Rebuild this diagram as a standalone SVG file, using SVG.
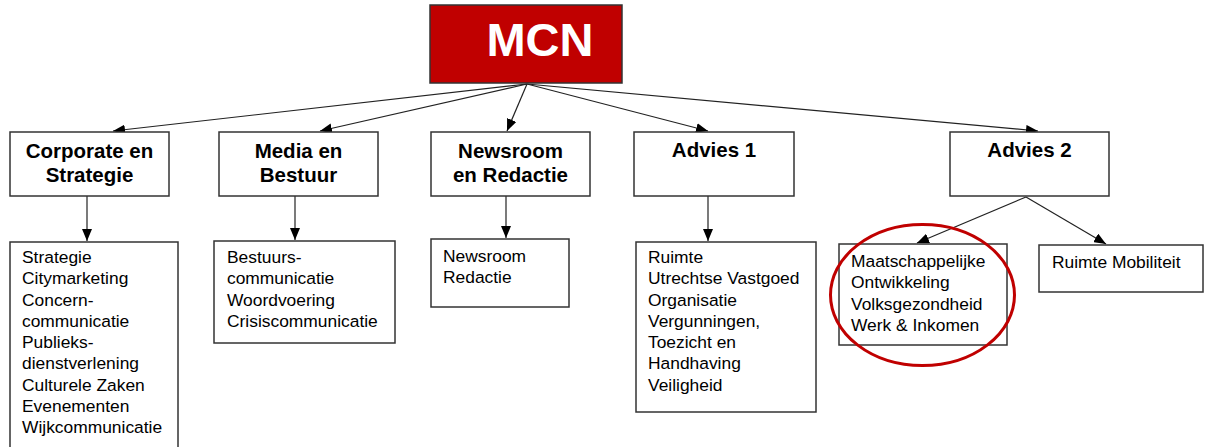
<svg xmlns="http://www.w3.org/2000/svg" width="1206" height="447" viewBox="0 0 1206 447">
<style>
.box{fill:#fff;stroke:#333;stroke-width:1.5}
.head{font-family:"Liberation Sans",Arial,sans-serif;font-weight:bold;font-size:20.5px;fill:#000;text-anchor:middle}
.body{font-family:"Liberation Sans",Arial,sans-serif;font-size:17.4px;fill:#000}
.conn{stroke:#222;stroke-width:1.2;fill:none;marker-end:url(#arr)}
</style>
<defs>
<marker id="arr" markerUnits="userSpaceOnUse" markerWidth="12" markerHeight="10" viewBox="0 0 12 10" refX="12" refY="5" orient="auto">
<path d="M0,0 L12,5 L0,10 Z" fill="#000"/>
</marker>
</defs>
<rect width="1206" height="447" fill="#fff"/>
<g id="connectors">
<line class="conn" x1="527" y1="84" x2="113" y2="131"/>
<line class="conn" x1="527" y1="84" x2="320" y2="131"/>
<line class="conn" x1="527" y1="84" x2="507" y2="131"/>
<line class="conn" x1="527" y1="84" x2="708" y2="131"/>
<line class="conn" x1="527" y1="84" x2="1038" y2="131"/>
<line class="conn" x1="87" y1="196" x2="87" y2="241"/>
<line class="conn" x1="295" y1="196" x2="295" y2="240"/>
<line class="conn" x1="506" y1="196" x2="506" y2="238"/>
<line class="conn" x1="708" y1="196" x2="708" y2="241"/>
<line class="conn" x1="1026" y1="197" x2="917" y2="243"/>
<line class="conn" x1="1026" y1="197" x2="1106" y2="244"/>
</g>
<g id="mcn">
<rect x="430" y="5" width="192" height="78" fill="#c00000" stroke="#333" stroke-width="1.5"/>
<text x="540" y="56" font-family="'Liberation Sans',Arial,sans-serif" font-weight="bold" font-size="47" fill="#fff" text-anchor="middle">MCN</text>
</g>
<g id="corporate">
<rect class="box" x="10" y="132" width="159" height="64"/>
<text class="head" x="89.5" y="158">Corporate en</text>
<text class="head" x="89.5" y="182">Strategie</text>
</g>
<g id="media">
<rect class="box" x="219" y="132" width="159" height="64"/>
<text class="head" x="298.5" y="158">Media en</text>
<text class="head" x="298.5" y="182">Bestuur</text>
</g>
<g id="newsroom">
<rect class="box" x="431" y="132" width="159" height="64"/>
<text class="head" x="510.5" y="158">Newsroom</text>
<text class="head" x="510.5" y="182">en Redactie</text>
</g>
<g id="advies1">
<rect class="box" x="634" y="132" width="160" height="64"/>
<text class="head" x="714" y="157">Advies 1</text>
</g>
<g id="advies2">
<rect class="box" x="950" y="132" width="159" height="64"/>
<text class="head" x="1029.5" y="157">Advies 2</text>
</g>
<g id="corporate-sub">
<rect class="box" x="10" y="242" width="168" height="220"/>
<text class="body" x="22" y="263">Strategie</text>
<text class="body" x="22" y="284.3">Citymarketing</text>
<text class="body" x="22" y="305.5">Concern-</text>
<text class="body" x="22" y="326.8">communicatie</text>
<text class="body" x="22" y="348">Publieks-</text>
<text class="body" x="22" y="369.3">dienstverlening</text>
<text class="body" x="22" y="390.5">Culturele Zaken</text>
<text class="body" x="22" y="411.8">Evenementen</text>
<text class="body" x="22" y="433">Wijkcommunicatie</text>
</g>
<g id="media-sub">
<rect class="box" x="214" y="241" width="181" height="102"/>
<text class="body" x="227" y="263">Bestuurs-</text>
<text class="body" x="227" y="284.3">communicatie</text>
<text class="body" x="227" y="305.5">Woordvoering</text>
<text class="body" x="227" y="326.8">Crisiscommunicatie</text>
</g>
<g id="newsroom-sub">
<rect class="box" x="431" y="239" width="138" height="68"/>
<text class="body" x="443" y="262">Newsroom</text>
<text class="body" x="443" y="283.3">Redactie</text>
</g>
<g id="advies1-sub">
<rect class="box" x="636" y="242" width="180" height="170"/>
<text class="body" x="648" y="263">Ruimte</text>
<text class="body" x="648" y="284.3">Utrechtse Vastgoed</text>
<text class="body" x="648" y="305.5">Organisatie</text>
<text class="body" x="648" y="326.8">Vergunningen,</text>
<text class="body" x="648" y="348">Toezicht en</text>
<text class="body" x="648" y="369.3">Handhaving</text>
<text class="body" x="648" y="390.5">Veiligheid</text>
</g>
<g id="advies2-sub1">
<rect class="box" x="839" y="244" width="168" height="101"/>
<text class="body" x="851" y="267">Maatschappelijke</text>
<text class="body" x="851" y="288.3">Ontwikkeling</text>
<text class="body" x="851" y="309.5">Volksgezondheid</text>
<text class="body" x="851" y="330.8">Werk &amp; Inkomen</text>
</g>
<g id="advies2-sub2">
<rect class="box" x="1039" y="245" width="164" height="47"/>
<text class="body" x="1052" y="268">Ruimte Mobiliteit</text>
</g>
<g id="highlight">
<ellipse cx="922.5" cy="295" rx="92" ry="70.5" fill="none" stroke="#c00000" stroke-width="3"/>
</g>
</svg>
